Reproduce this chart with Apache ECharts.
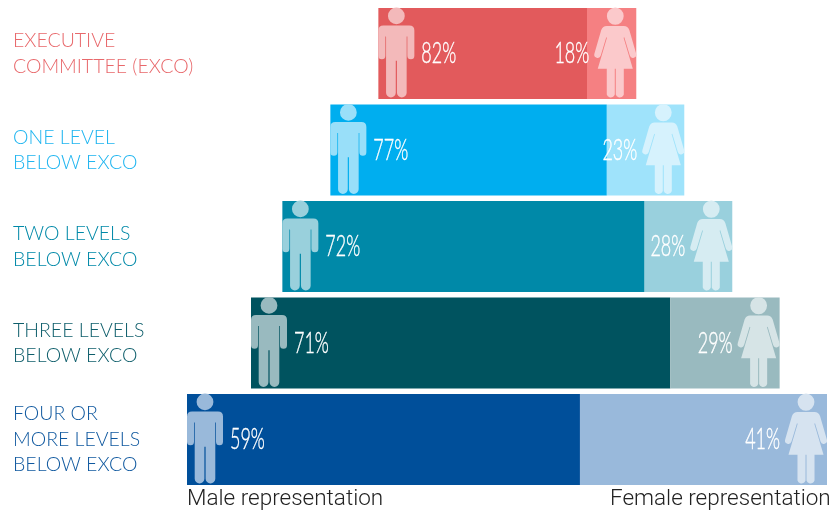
<!DOCTYPE html>
<html><head><meta charset="utf-8">
<style>html,body{margin:0;padding:0;background:#fff}#c{width:829px;height:510px}</style>
<script src="https://cdn.jsdelivr.net/npm/echarts@6/dist/echarts.min.js"></script>
</head><body><div id="c"></div>
<script>
const categories = ['EXECUTIVE\nCOMMITTEE (EXCO)','ONE LEVEL\nBELOW EXCO','TWO LEVELS\nBELOW EXCO','THREE LEVELS\nBELOW EXCO','FOUR OR\nMORE LEVELS\nBELOW EXCO'];
// Printed percentages
const maleLabels = [82,77,72,71,59];
const femaleLabels = [18,23,28,29,41];
// Drawn bar extents (share of the widest bar = 100)
const barStart = [29.9,22.4,14.9,10.0,0];
const maleLength = [32.6,43.2,56.6,65.5,61.4];
const femaleLength = [7.7,12.1,13.7,17.1,38.6];

const textColors = ['#E8686B','#1FB5F0','#0089A8','#0E5E6B','#0F589F'];
const maleColors = ['#E25A5C','#00AEEF','#0089A8','#00535F','#004F9A'];
const femaleColors = ['#F58082','#9FE3FB','#99D0DD','#99BABF','#99B9DB'];
const maleIcon = ['#F3B9BA','#99DFF9','#99D0DC','#99BABF','#99B9DA'];
const femaleIcon = ['#FBC9CB','#D6F2FD','#D6ECF2','#D6E4E6','#D6E3F0'];

const MALE_PATH = 'M9.6 8.3a8.4 8.4 0 1 0 16.8 0a8.4 8.4 0 1 0 -16.8 0zM5 18H31Q36 18 36 23V48A3.5 3.5 0 0 1 29 48V29H28.3V85A4.8 4.8 0 0 1 18.6 85V53H17.4V85A4.8 4.8 0 0 1 7.7 85V29H7V48A3.5 3.5 0 0 1 0 48V23Q0 18 5 18Z';
const FEMALE_PATH = 'M12.6 8.3a8.4 8.4 0 1 0 16.8 0a8.4 8.4 0 1 0 -16.8 0zM12.5 18H29.5Q33.5 18 35 22L41.8 45A3.3 3.3 0 0 1 35.5 47L30 29L29.3 29.5L38.5 60H29.5V85.2A4.2 4.2 0 0 1 21.5 85.2V60H20.5V85.2A4.2 4.2 0 0 1 12.5 85.2V60H3.5L12.7 29.5L12 29L6.5 47A3.3 3.3 0 0 1 .2 45L7 22Q8.5 18 12.5 18Z';

function icon(path, w, cx, cy, fill) {
  return {type:'path', shape:{pathData:path, x:cx-w/2, y:cy-45, width:w, height:90, layout:'cover'}, style:{fill}, silent:true};
}
function pct(text, x, y, align) {
  return {type:'text', x, y, scaleX:0.62, style:{text, fill:'#fff', stroke:'#fff', lineWidth:0.4, font:'300 29px Lato', align, verticalAlign:'middle'}, silent:true};
}

const chart = echarts.init(document.getElementById('c'), null, {renderer:'canvas'});
chart.setOption({
  animation:false,
  grid:{left:187, top:5.25, width:640, height:482.5, containLabel:false},
  xAxis:{type:'value', min:0, max:100, show:false},
  yAxis:{type:'category', inverse:true, data:categories,
    axisLine:{show:false}, axisTick:{show:false},
    axisLabel:{align:'left', margin:174, fontFamily:'Lato', fontWeight:300, fontSize:19.5, lineHeight:25.5, padding:[4,0,0,0],
      color:(v,i)=>textColors[i]}},
  series:[
    {type:'bar', stack:'s', barWidth:91, silent:true, data:barStart, itemStyle:{color:'transparent'}},
    {type:'bar', stack:'s', barWidth:91, silent:true, data:maleLength.map((v,i)=>({value:v,itemStyle:{color:maleColors[i]}}))},
    {type:'bar', stack:'s', barWidth:91, silent:true, data:femaleLength.map((v,i)=>({value:v,itemStyle:{color:femaleColors[i]}}))},
    {type:'custom', z:5, silent:true, encode:{x:0,y:1},
     data:categories.map((c,i)=>[barStart[i], i, barStart[i]+maleLength[i]+femaleLength[i]]),
     renderItem:(p,api)=>{
       const i=p.dataIndex, s=api.coord([api.value(0),i]), e=api.coord([api.value(2),i]);
       const cy=s[1]-1;
       return {type:'group',children:[
         icon(MALE_PATH,36,s[0]+18,cy,maleIcon[i]),
         icon(FEMALE_PATH,42,e[0]-21,cy,femaleIcon[i]),
         pct(maleLabels[i]+'%',s[0]+43,s[1]+0.5,'left'),
         pct(femaleLabels[i]+'%',e[0]-47,s[1]+0.5,'right')
       ]};
     }}
  ],
  graphic:[
    {type:'text',left:187,top:488,style:{text:'Male representation',fill:'#222',font:'300 22.5px Roboto'}},
    {type:'text',left:610,top:488,style:{text:'Female representation',fill:'#222',font:'300 22.5px Roboto'}}
  ]
});
</script></body></html>
